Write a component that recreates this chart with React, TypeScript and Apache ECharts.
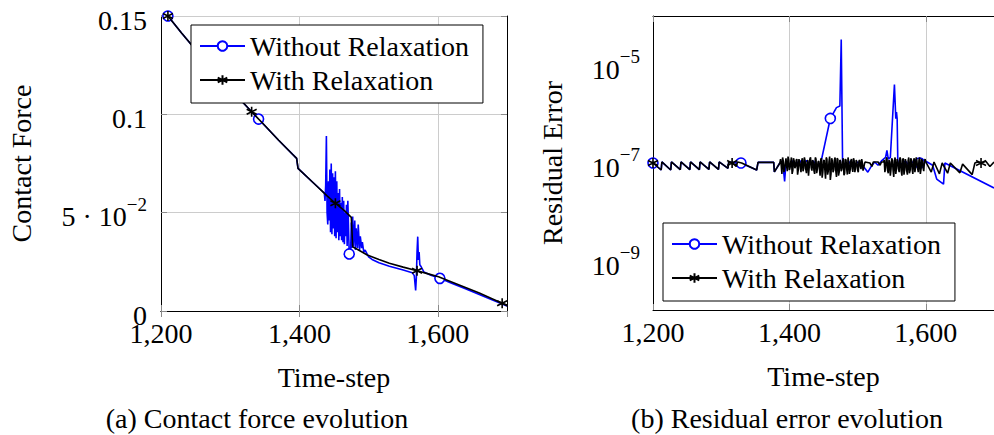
import React, { useEffect, useRef } from 'react';
import * as echarts from 'echarts';

const FONT = '"Liberation Serif", "Times New Roman", serif';

const seriesNames = ['Without Relaxation', 'With Relaxation'];
const xTicks = [1200, 1400, 1600];
const xTickLabels = ['1,200', '1,400', '1,600'];
const forceTicks = [0, 0.05, 0.1, 0.15];
const forceTickLabels = ['{b|0}', '{b|5 · 10}{s|−2}', '{b|0.1}', '{b|0.15}'];
const residualTicks = [1e-9, 1e-7, 1e-5];
const residualTickLabels = ['{b|10}{s|−9}', '{b|10}{s|−7}', '{b|10}{s|−5}'];
const captions = ['(a) Contact force evolution', '(b) Residual error evolution'];

// (a) contact force
const forceWithout: number[][] = [
  [1210, 0.15], [1230, 0.1412], [1250, 0.1328], [1270, 0.1248], [1290, 0.117], [1310, 0.1092],
  [1341, 0.0976], [1370, 0.0868], [1396, 0.0776], [1398, 0.0725], [1420, 0.0652], [1436, 0.06],
  [1437, 0.056], [1438, 0.064], [1439, 0.089], [1440, 0.05], [1441, 0.044], [1442, 0.066], [1443, 0.046],
  [1444, 0.072], [1445, 0.04], [1446, 0.075], [1447, 0.039], [1448, 0.07], [1449, 0.042], [1450, 0.068],
  [1451, 0.038], [1452, 0.071], [1453, 0.037], [1454, 0.066], [1455, 0.04], [1456, 0.06], [1457, 0.036],
  [1458, 0.062], [1459, 0.038], [1460, 0.055], [1461, 0.036], [1462, 0.058], [1463, 0.035], [1464, 0.056],
  [1465, 0.034], [1466, 0.05], [1467, 0.038], [1468, 0.054], [1469, 0.033], [1470, 0.056], [1472, 0.029],
  [1474, 0.03], [1475, 0.045], [1476, 0.032], [1477, 0.048], [1478, 0.033], [1480, 0.046], [1481, 0.031],
  [1482, 0.042], [1484, 0.032], [1485, 0.044], [1487, 0.031], [1488, 0.038], [1490, 0.032], [1491, 0.035],
  [1493, 0.03], [1495, 0.031], [1500, 0.0275], [1505, 0.0262], [1515, 0.0245], [1530, 0.0228],
  [1550, 0.0208], [1563, 0.0195], [1566, 0.018], [1568, 0.0105], [1569, 0.017], [1570, 0.03],
  [1571, 0.0378], [1572, 0.026], [1573, 0.03], [1574, 0.0235], [1576, 0.0225], [1580, 0.0198],
  [1590, 0.0182], [1603, 0.0166], [1620, 0.0141], [1640, 0.0113], [1660, 0.0084], [1680, 0.0054],
  [1700, 0.0026],
];
const forceWithoutMarks = [1210, 1341, 1472, 1603];

const forceWith: number[][] = [
  [1210, 0.15], [1230, 0.1412], [1250, 0.1328], [1270, 0.1248], [1290, 0.117], [1310, 0.1092],
  [1331, 0.1013], [1350, 0.0943], [1370, 0.0868], [1390, 0.0797], [1396, 0.0776], [1398, 0.0725],
  [1420, 0.0652], [1440, 0.0585], [1452, 0.0548], [1465, 0.051], [1475, 0.0476], [1477, 0.0327],
  [1488, 0.0305], [1498, 0.0285], [1515, 0.0262], [1530, 0.0243], [1550, 0.0223], [1570, 0.0205],
  [1585, 0.019], [1601, 0.0174], [1620, 0.0148], [1640, 0.012], [1660, 0.0091], [1680, 0.006],
  [1693, 0.0039], [1700, 0.003],
];
const forceWithMarks = [1210, 1331, 1452, 1570, 1693];

// (b) residual error
const residualWithout: number[][] = [
  [1200, 1.0e-7], [1212, 7.2e-8], [1213, 1.05e-7], [1226, 7.2e-8], [1227, 1.05e-7], [1240, 7.3e-8],
  [1241, 1.05e-7], [1254, 7.3e-8], [1255, 1.05e-7], [1268, 7.3e-8], [1269, 1.05e-7], [1282, 7.4e-8],
  [1283, 1.05e-7], [1296, 7.4e-8], [1297, 1.05e-7], [1310, 7.8e-8], [1311, 1.05e-7], [1329, 1.0e-7],
  [1352, 7.2e-8], [1354, 1.03e-7], [1377, 1.03e-7], [1378, 6.6e-8], [1386, 1.0e-7], [1390, 1.1e-7],
  [1393, 4.2e-8], [1395, 1.05e-7], [1400, 9.0e-8], [1405, 1.1e-7], [1410, 9.5e-8], [1415, 1.12e-7],
  [1420, 9.0e-8], [1425, 1.12e-7], [1430, 9.5e-8], [1435, 1.1e-7], [1440, 9.0e-8], [1446, 1.0e-7],
  [1460, 8.1e-7], [1469, 1.35e-6], [1474, 1.45e-6], [1476, 3.3e-5], [1477, 3.3e-5], [1478, 1.0e-7],
  [1485, 9.0e-8], [1490, 1.1e-7], [1495, 8.5e-8], [1500, 1.05e-7], [1505, 9.0e-8], [1510, 8.0e-8],
  [1515, 6.5e-8], [1520, 8.5e-8], [1525, 1.05e-7], [1530, 9.0e-8], [1535, 1.1e-7], [1541, 1.3e-7],
  [1543, 1.8e-7], [1545, 1.2e-7], [1548, 1.3e-7], [1554, 4.0e-6], [1556, 8.0e-7], [1557, 1.1e-6],
  [1558, 8.0e-7], [1559, 1.0e-7], [1565, 9.5e-8], [1570, 1.1e-7], [1575, 9.0e-8], [1580, 1.05e-7],
  [1585, 9.5e-8], [1591, 1.0e-7], [1596, 1.15e-7], [1602, 1.05e-7], [1610, 9.0e-8], [1616, 4.7e-8],
  [1626, 3.7e-8], [1628, 1.0e-7], [1700, 3.1e-8],
];
const residualWithoutMarks = [1200, 1329, 1460, 1591];

const residualWith: number[][] = [
  [1200, 1.0e-7], [1212, 7.2e-8], [1213, 1.05e-7], [1226, 7.2e-8], [1227, 1.05e-7], [1240, 7.3e-8],
  [1241, 1.05e-7], [1254, 7.3e-8], [1255, 1.05e-7], [1268, 7.3e-8], [1269, 1.05e-7], [1282, 7.4e-8],
  [1283, 1.05e-7], [1296, 7.4e-8], [1297, 1.05e-7], [1310, 7.8e-8], [1311, 1.05e-7], [1316, 1.0e-7],
  [1322, 8.5e-8], [1324, 1.05e-7], [1330, 1.0e-7], [1352, 7.2e-8], [1354, 1.03e-7], [1377, 1.03e-7],
  [1378, 6.6e-8], [1386, 1.0e-7],
  [1387, 1.2e-7], [1389, 6.0e-8], [1391, 1.1e-7], [1393, 7.5e-8], [1395, 1.25e-7], [1397, 6.8e-8],
  [1399, 1.15e-7], [1401, 8.0e-8], [1403, 1.3e-7], [1405, 7.0e-8], [1407, 1.1e-7], [1409, 8.5e-8],
  [1411, 1.2e-7], [1413, 7.2e-8], [1415, 1.05e-7], [1417, 6.5e-8], [1419, 1.25e-7], [1421, 7.8e-8],
  [1423, 1.1e-7], [1425, 6.2e-8], [1427, 1.15e-7], [1429, 8.0e-8], [1431, 1.3e-7], [1433, 7.0e-8],
  [1435, 1.05e-7], [1437, 6.0e-8], [1439, 1.2e-7], [1441, 7.5e-8], [1443, 1.1e-7], [1445, 5.5e-8],
  [1447, 1.25e-7], [1449, 6.5e-8], [1451, 1.15e-7], [1453, 4.8e-8], [1455, 1.2e-7], [1457, 6.8e-8],
  [1459, 1.35e-7], [1461, 6.0e-8], [1463, 1.1e-7], [1465, 7.2e-8], [1467, 1.3e-7], [1469, 5.2e-8],
  [1471, 1.2e-7], [1473, 6.5e-8], [1475, 1.1e-7], [1477, 7.5e-8], [1479, 1.25e-7], [1481, 6.2e-8],
  [1483, 1.15e-7], [1485, 5.8e-8], [1487, 1.05e-7], [1489, 7.0e-8], [1491, 1.2e-7], [1493, 6.6e-8],
  [1495, 1.1e-7], [1497, 8.0e-8], [1499, 1.05e-7], [1501, 6.5e-8], [1503, 1.15e-7], [1505, 7.5e-8],
  [1507, 1.0e-7], [1509, 8.0e-8], [1511, 1.05e-7], [1518, 1.0e-7], [1521, 8.5e-8], [1523, 1.05e-7],
  [1530, 1.05e-7], [1533, 9.0e-8], [1535, 1.05e-7], [1538, 1.05e-7], [1540, 6.5e-8], [1542, 1.2e-7],
  [1544, 7.0e-8], [1546, 1.15e-7], [1548, 5.5e-8], [1550, 1.25e-7], [1552, 7.2e-8], [1554, 1.1e-7],
  [1556, 6.0e-8], [1558, 1.2e-7], [1560, 7.5e-8], [1562, 1.3e-7], [1564, 6.8e-8], [1566, 1.15e-7],
  [1568, 5.8e-8], [1570, 1.2e-7], [1572, 7.0e-8], [1574, 1.1e-7], [1576, 6.2e-8], [1578, 1.25e-7],
  [1580, 7.5e-8], [1582, 1.1e-7], [1584, 6.5e-8], [1586, 1.3e-7], [1588, 7.8e-8], [1590, 1.15e-7],
  [1592, 6.0e-8], [1594, 1.2e-7], [1596, 8.0e-8], [1598, 1.1e-7], [1600, 1.05e-7],
  [1608, 6.5e-8], [1612, 1.05e-7], [1620, 6.0e-8], [1624, 1.0e-7], [1632, 6.2e-8], [1636, 1.0e-7],
  [1650, 6.3e-8], [1654, 9.5e-8], [1668, 5.8e-8], [1672, 1.0e-7], [1676, 1.05e-7], [1681, 1.0e-7],
  [1688, 1.08e-7], [1694, 8.5e-8], [1700, 1.05e-7],
];
// extra in-between samples of the noisy stretch of the "With Relaxation" residual
const residualWithNoise: number[][] = [
  [1388, 9.0e-8], [1390, 1.3e-7], [1392, 6.5e-8], [1394, 1.0e-7], [1396, 8.5e-8], [1398, 1.35e-7],
  [1400, 7.2e-8], [1402, 1.05e-7], [1404, 6.0e-8], [1406, 1.25e-7], [1408, 7.8e-8], [1410, 1.15e-7],
  [1412, 5.8e-8], [1414, 1.2e-7], [1416, 8.2e-8], [1418, 1.1e-7], [1420, 6.8e-8], [1422, 1.3e-7],
  [1424, 7.5e-8], [1426, 1.05e-7], [1428, 5.5e-8], [1430, 1.2e-7], [1432, 8.0e-8], [1434, 1.15e-7],
  [1436, 7.0e-8], [1438, 1.3e-7], [1440, 6.2e-8], [1442, 1.05e-7], [1444, 7.8e-8], [1446, 1.2e-7],
  [1448, 5.0e-8], [1450, 1.1e-7], [1452, 7.2e-8], [1454, 1.3e-7], [1456, 5.8e-8], [1458, 1.05e-7],
  [1460, 4.5e-8], [1462, 1.25e-7], [1464, 6.5e-8], [1466, 1.15e-7], [1468, 7.0e-8], [1470, 1.25e-7],
  [1472, 5.5e-8], [1474, 1.15e-7], [1476, 6.8e-8], [1478, 1.05e-7], [1480, 5.6e-8], [1482, 1.2e-7],
  [1484, 7.5e-8], [1486, 1.3e-7], [1488, 6.0e-8], [1490, 1.1e-7], [1492, 7.8e-8], [1494, 1.25e-7],
  [1496, 6.5e-8], [1498, 1.15e-7], [1500, 7.2e-8], [1502, 1.1e-7], [1504, 8.5e-8], [1506, 1.2e-7],
  [1508, 7.0e-8], [1510, 9.5e-8],
  [1539, 1.15e-7], [1541, 8.0e-8], [1543, 1.3e-7], [1545, 6.2e-8], [1547, 1.05e-7], [1549, 7.5e-8],
  [1551, 1.15e-7], [1553, 5.2e-8], [1555, 1.3e-7], [1557, 7.8e-8], [1559, 1.1e-7], [1561, 6.5e-8],
  [1563, 1.2e-7], [1565, 5.5e-8], [1567, 1.25e-7], [1569, 7.2e-8], [1571, 1.05e-7], [1573, 5.8e-8],
  [1575, 1.3e-7], [1577, 7.0e-8], [1579, 1.15e-7], [1581, 6.0e-8], [1583, 1.25e-7], [1585, 8.0e-8],
  [1587, 1.1e-7], [1589, 6.5e-8], [1591, 1.3e-7], [1593, 7.5e-8], [1595, 1.1e-7], [1597, 6.8e-8],
  [1599, 1.2e-7],
];
const residualWithMarks = [1200, 1316, 1681];

const BLUE = '#0000ff';
const BLACK = '#000000';
const GRID_GRAY = '#cccccc';
const TICK_GRAY = '#8a8a8a';
const ASTERISK = 'path://M0,-10L0,10M-8.66,-5L8.66,5M-8.66,5L8.66,-5';

function withMarks(points: number[][], marks: number[]) {
  return points.map(([x, y]) =>
    marks.includes(x) ? { value: [x, y] } : { value: [x, y], symbol: 'none' }
  );
}

const residualWithAll = residualWith.concat(residualWithNoise).sort((a, b) => a[0] - b[0]);

const richLabel = {
  b: { fontFamily: FONT, fontSize: 28, color: '#000', lineHeight: 36, verticalAlign: 'bottom' },
  s: { fontFamily: FONT, fontSize: 19, color: '#000', lineHeight: 19, verticalAlign: 'top' },
};

function pickLabel(v: number, ticks: number[], labels: string[], log: boolean) {
  for (let i = 0; i < ticks.length; i++) {
    const d = log ? Math.abs(Math.log10(v) - Math.log10(ticks[i])) : Math.abs(v - ticks[i]);
    if (d < (log ? 0.01 : 1e-9)) return labels[i];
  }
  return '';
}

const tickStyle = { show: true, inside: true, length: 6, lineStyle: { color: TICK_GRAY, width: 1 } };

function legendFor(left: number, top: number) {
  return {
    data: seriesNames,
    orient: 'vertical',
    left,
    top,
    itemWidth: 45,
    itemHeight: 12,
    itemGap: 6,
    padding: [7, 14, 9, 8],
    borderColor: '#000',
    borderWidth: 1,
    backgroundColor: '#fff',
    selectedMode: false,
    textStyle: { fontFamily: FONT, fontSize: 28, color: '#000' },
  };
}

function xAxisFor(gridIndex: number) {
  return {
    type: 'value',
    gridIndex,
    min: 1200,
    max: 1700,
    interval: 200,
    name: 'Time-step',
    nameLocation: 'middle',
    nameGap: 52,
    nameTextStyle: { fontFamily: FONT, fontSize: 28, color: '#000' },
    axisLine: { show: true, lineStyle: { color: '#000', width: 1 } },
    axisTick: tickStyle,
    splitLine: { show: true, lineStyle: { color: GRID_GRAY, width: 1 } },
    axisLabel: {
      margin: 8,
      showMaxLabel: false,
      fontFamily: FONT,
      fontSize: 28,
      color: '#000',
      formatter: (v: number) => pickLabel(v, xTicks, xTickLabels, false),
    },
  };
}

function xTopFor(gridIndex: number) {
  return {
    type: 'value',
    gridIndex,
    position: 'top',
    min: 1200,
    max: 1700,
    interval: 200,
    axisLine: { show: true, lineStyle: { color: '#000', width: 1 } },
    axisTick: tickStyle,
    splitLine: { show: false },
    axisLabel: { show: false },
  };
}

const option = {
  animation: false,
  backgroundColor: '#fff',
  grid: [
    { left: 161, top: 16, width: 346, height: 295, show: false },
    { left: 653, top: 16, width: 345, height: 294, show: false },
  ],
  legend: [legendFor(191, 25), legendFor(663, 223)],
  xAxis: [xAxisFor(0), xAxisFor(1), xTopFor(0), xTopFor(1)],
  yAxis: [
    {
      type: 'value',
      gridIndex: 0,
      min: 0,
      max: 0.15,
      interval: 0.05,
      name: 'Contact Force',
      nameLocation: 'middle',
      nameGap: 126,
      nameTextStyle: { fontFamily: FONT, fontSize: 28, color: '#000' },
      axisLine: { show: true, lineStyle: { color: '#000', width: 1 } },
      axisTick: tickStyle,
      splitLine: { show: true, lineStyle: { color: GRID_GRAY, width: 1 } },
      axisLabel: {
        margin: 14,
        formatter: (v: number) => pickLabel(v, forceTicks, forceTickLabels, false),
        rich: richLabel,
      },
    },
    {
      type: 'log',
      gridIndex: 1,
      logBase: 10,
      min: 1e-10,
      max: 1e-4,
      interval: 1,
      name: 'Residual Error',
      nameLocation: 'middle',
      nameGap: 87,
      nameTextStyle: { fontFamily: FONT, fontSize: 28, color: '#000' },
      axisLine: { show: true, lineStyle: { color: '#000', width: 1 } },
      axisTick: { show: false },
      splitLine: { show: false },
      axisLabel: {
        margin: 13,
        formatter: (v: number) => pickLabel(v, residualTicks, residualTickLabels, true),
        rich: richLabel,
      },
    },
    {
      type: 'value',
      gridIndex: 0,
      position: 'right',
      min: 0,
      max: 0.15,
      interval: 0.05,
      axisLine: { show: true, lineStyle: { color: '#000', width: 1 } },
      axisTick: tickStyle,
      splitLine: { show: false },
      axisLabel: { show: false },
    },
  ],
  series: [
    {
      type: 'line',
      name: seriesNames[0],
      xAxisIndex: 0,
      yAxisIndex: 0,
      data: withMarks(forceWithout, forceWithoutMarks),
      symbol: 'circle',
      symbolSize: 10,
      lineStyle: { color: BLUE, width: 1.6 },
      itemStyle: { color: '#fff', borderColor: BLUE, borderWidth: 1.6 },
      z: 2,
    },
    {
      type: 'line',
      name: seriesNames[1],
      xAxisIndex: 0,
      yAxisIndex: 0,
      data: withMarks(forceWith, forceWithMarks),
      symbol: ASTERISK,
      symbolSize: 10,
      lineStyle: { color: BLACK, width: 1.6 },
      itemStyle: { color: BLACK, borderColor: BLACK, borderWidth: 1.6 },
      z: 3,
    },
    {
      type: 'line',
      name: seriesNames[0],
      xAxisIndex: 1,
      yAxisIndex: 1,
      data: withMarks(residualWithout, residualWithoutMarks),
      symbol: 'circle',
      symbolSize: 10,
      lineStyle: { color: BLUE, width: 1.6 },
      itemStyle: { color: '#fff', borderColor: BLUE, borderWidth: 1.6 },
      z: 2,
      markLine: {
        silent: true,
        z: 1,
        symbol: ['none', 'none'],
        label: { show: false },
        lineStyle: { color: GRID_GRAY, width: 1, type: 'solid' },
        data: residualTicks.map((t) => ({ yAxis: t })),
      },
    },
    {
      type: 'line',
      name: seriesNames[1],
      xAxisIndex: 1,
      yAxisIndex: 1,
      data: withMarks(residualWithAll, residualWithMarks),
      symbol: ASTERISK,
      symbolSize: 10,
      lineStyle: { color: BLACK, width: 1.6 },
      itemStyle: { color: BLACK, borderColor: BLACK, borderWidth: 1.6 },
      z: 3,
    },
  ],
  graphic: [
    {
      type: 'text',
      x: 257,
      y: 418,
      style: {
        text: captions[0],
        fontFamily: FONT,
        fontSize: 28,
        fill: '#000',
        textAlign: 'center',
        textVerticalAlign: 'middle',
      },
    },
    {
      type: 'text',
      x: 787,
      y: 418,
      style: {
        text: captions[1],
        fontFamily: FONT,
        fontSize: 28,
        fill: '#000',
        textAlign: 'center',
        textVerticalAlign: 'middle',
      },
    },
  ],
};

export default function App() {
  const ref = useRef<HTMLDivElement>(null);
  useEffect(() => {
    if (!ref.current) return;
    const chart = echarts.init(ref.current, null, { renderer: 'svg' });
    chart.setOption(option as any);
    return () => chart.dispose();
  }, []);
  return (
    <div
      ref={ref}
      style={{ position: 'fixed', left: 0, top: 0, width: 994, height: 435, background: '#fff' }}
    />
  );
}
